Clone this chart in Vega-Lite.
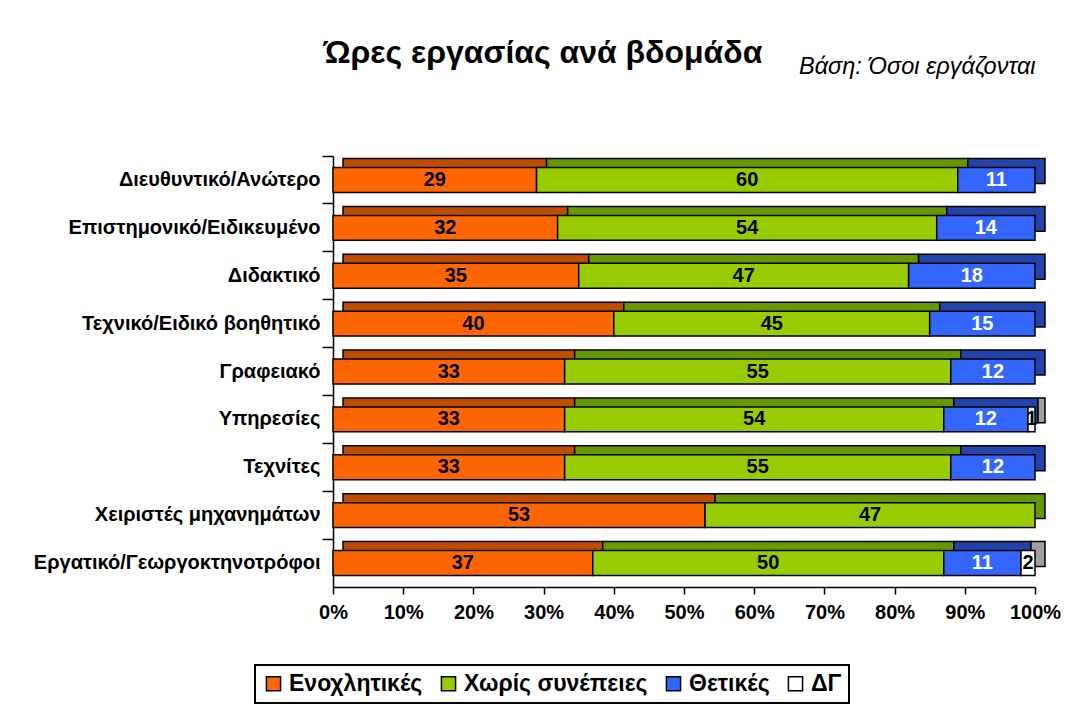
{
  "$schema": "https://vega.github.io/schema/vega-lite/v6.json",
  "width": 702,
  "height": 431,
  "autosize": "none",
  "padding": {"left": 333, "top": 156, "right": 48, "bottom": 128},
  "background": "white",
  "config": {"font": "Liberation Sans", "view": {"stroke": null}},
  "title": {"text": "Ώρες εργασίας ανά βδομάδα", "font": "Liberation Sans", "fontSize": 32, "fontWeight": "bold", "color": "black", "anchor": "middle", "dx": -141, "offset": -16},
  "data": {"values": [
    {"cat": "Διευθυντικό/Ανώτερο", "resp": "Ενοχλητικές", "ord": 1, "value": 29},
    {"cat": "Διευθυντικό/Ανώτερο", "resp": "Χωρίς συνέπειες", "ord": 2, "value": 60},
    {"cat": "Διευθυντικό/Ανώτερο", "resp": "Θετικές", "ord": 3, "value": 11},
    {"cat": "Επιστημονικό/Ειδικευμένο", "resp": "Ενοχλητικές", "ord": 1, "value": 32},
    {"cat": "Επιστημονικό/Ειδικευμένο", "resp": "Χωρίς συνέπειες", "ord": 2, "value": 54},
    {"cat": "Επιστημονικό/Ειδικευμένο", "resp": "Θετικές", "ord": 3, "value": 14},
    {"cat": "Διδακτικό", "resp": "Ενοχλητικές", "ord": 1, "value": 35},
    {"cat": "Διδακτικό", "resp": "Χωρίς συνέπειες", "ord": 2, "value": 47},
    {"cat": "Διδακτικό", "resp": "Θετικές", "ord": 3, "value": 18},
    {"cat": "Τεχνικό/Ειδικό βοηθητικό", "resp": "Ενοχλητικές", "ord": 1, "value": 40},
    {"cat": "Τεχνικό/Ειδικό βοηθητικό", "resp": "Χωρίς συνέπειες", "ord": 2, "value": 45},
    {"cat": "Τεχνικό/Ειδικό βοηθητικό", "resp": "Θετικές", "ord": 3, "value": 15},
    {"cat": "Γραφειακό", "resp": "Ενοχλητικές", "ord": 1, "value": 33},
    {"cat": "Γραφειακό", "resp": "Χωρίς συνέπειες", "ord": 2, "value": 55},
    {"cat": "Γραφειακό", "resp": "Θετικές", "ord": 3, "value": 12},
    {"cat": "Υπηρεσίες", "resp": "Ενοχλητικές", "ord": 1, "value": 33},
    {"cat": "Υπηρεσίες", "resp": "Χωρίς συνέπειες", "ord": 2, "value": 54},
    {"cat": "Υπηρεσίες", "resp": "Θετικές", "ord": 3, "value": 12},
    {"cat": "Υπηρεσίες", "resp": "ΔΓ", "ord": 4, "value": 1},
    {"cat": "Τεχνίτες", "resp": "Ενοχλητικές", "ord": 1, "value": 33},
    {"cat": "Τεχνίτες", "resp": "Χωρίς συνέπειες", "ord": 2, "value": 55},
    {"cat": "Τεχνίτες", "resp": "Θετικές", "ord": 3, "value": 12},
    {"cat": "Χειριστές μηχανημάτων", "resp": "Ενοχλητικές", "ord": 1, "value": 53},
    {"cat": "Χειριστές μηχανημάτων", "resp": "Χωρίς συνέπειες", "ord": 2, "value": 47},
    {"cat": "Εργατικό/Γεωργοκτηνοτρόφοι", "resp": "Ενοχλητικές", "ord": 1, "value": 37},
    {"cat": "Εργατικό/Γεωργοκτηνοτρόφοι", "resp": "Χωρίς συνέπειες", "ord": 2, "value": 50},
    {"cat": "Εργατικό/Γεωργοκτηνοτρόφοι", "resp": "Θετικές", "ord": 3, "value": 11},
    {"cat": "Εργατικό/Γεωργοκτηνοτρόφοι", "resp": "ΔΓ", "ord": 4, "value": 2}
  ]},
  "transform": [
    {"stack": "value", "groupby": ["cat"], "sort": [{"field": "ord", "order": "ascending"}], "as": ["v0", "v1"]},
    {"calculate": "(datum.v0 + datum.v1) / 2", "as": "mid"}
  ],
  "encoding": {
    "y": {
      "field": "cat", "type": "nominal",
      "sort": ["Διευθυντικό/Ανώτερο", "Επιστημονικό/Ειδικευμένο", "Διδακτικό", "Τεχνικό/Ειδικό βοηθητικό", "Γραφειακό", "Υπηρεσίες", "Τεχνίτες", "Χειριστές μηχανημάτων", "Εργατικό/Γεωργοκτηνοτρόφοι"],
      "scale": {"paddingInner": 0.48, "paddingOuter": 0.24},
      "axis": {"title": null, "labelFont": "Liberation Sans", "labelFontSize": 20, "labelFontWeight": "bold", "labelColor": "black", "labelPadding": 2, "labelLimit": 400, "domainColor": "black", "domainWidth": 1.5, "tickColor": "black", "tickWidth": 1.5, "tickSize": 11, "bandPosition": -0.46}
    }
  },
  "layer": [
    {
      "mark": {"type": "bar", "xOffset": 10, "x2Offset": 10, "yOffset": -9, "y2Offset": -9, "stroke": "black", "strokeWidth": 1.5},
      "encoding": {
        "x": {"field": "v0", "type": "quantitative", "scale": {"domain": [0, 100]}, "axis": {"orient": "bottom", "title": null, "values": [0, 10, 20, 30, 40, 50, 60, 70, 80, 90, 100], "labelExpr": "datum.value + '%'", "labelOverlap": false, "labelFlush": false, "labelFont": "Liberation Sans", "labelFontSize": 20, "labelFontWeight": "bold", "labelColor": "black", "labelPadding": 8, "domainColor": "black", "domainWidth": 1.5, "tickColor": "black", "tickWidth": 1.5, "tickSize": 7, "grid": false}},
        "x2": {"field": "v1"},
        "color": {"field": "resp", "type": "nominal", "scale": {"domain": ["Ενοχλητικές", "Χωρίς συνέπειες", "Θετικές", "ΔΓ"], "range": ["#C04C00", "#669900", "#2244AA", "#A0A0A0"]}, "legend": null}
      }
    },
    {
      "mark": {"type": "bar", "stroke": "black", "strokeWidth": 1.5},
      "encoding": {
        "x": {"field": "v0", "type": "quantitative", "axis": null},
        "x2": {"field": "v1"},
        "color": {"field": "resp", "type": "nominal", "scale": {"domain": ["Ενοχλητικές", "Χωρίς συνέπειες", "Θετικές", "ΔΓ"], "range": ["#FF6600", "#99CC00", "#3366FF", "#FFFFFF"]},
          "legend": {"title": null, "orient": "none", "legendX": -78, "legendY": 509, "direction": "horizontal", "columns": 4, "symbolType": "square", "symbolSize": 200, "symbolStrokeColor": "black", "symbolStrokeWidth": 1.5, "labelFont": "Liberation Sans", "labelFontSize": 23, "labelFontWeight": "bold", "labelColor": "black", "labelLimit": 300, "columnPadding": 14, "strokeColor": "black", "padding": 7, "fillColor": "white",
            "encode": {"legend": {"update": {"strokeWidth": {"value": 2}}}}}}
      }
    },
    {
      "mark": {"type": "text", "font": "Liberation Sans", "fontSize": 20, "fontWeight": "bold", "baseline": "middle", "align": "center"},
      "encoding": {
        "x": {"field": "mid", "type": "quantitative", "axis": {"orient": "top", "domain": false, "ticks": false, "labels": false, "grid": false, "title": "Βάση: Όσοι εργάζονται", "titleX": 702, "titleY": -83, "titleAlign": "right", "titleBaseline": "alphabetic", "titleFont": "Liberation Sans", "titleFontSize": 23.5, "titleFontStyle": "italic", "titleFontWeight": "normal", "titleColor": "black"}},
        "text": {"field": "value", "type": "quantitative"},
        "color": {"field": "resp", "type": "nominal", "scale": {"domain": ["Ενοχλητικές", "Χωρίς συνέπειες", "Θετικές", "ΔΓ"], "range": ["black", "black", "white", "black"]}, "legend": null}
      }
    }
  ],
  "resolve": {"scale": {"color": "independent"}, "axis": {"x": "independent"}}
}
